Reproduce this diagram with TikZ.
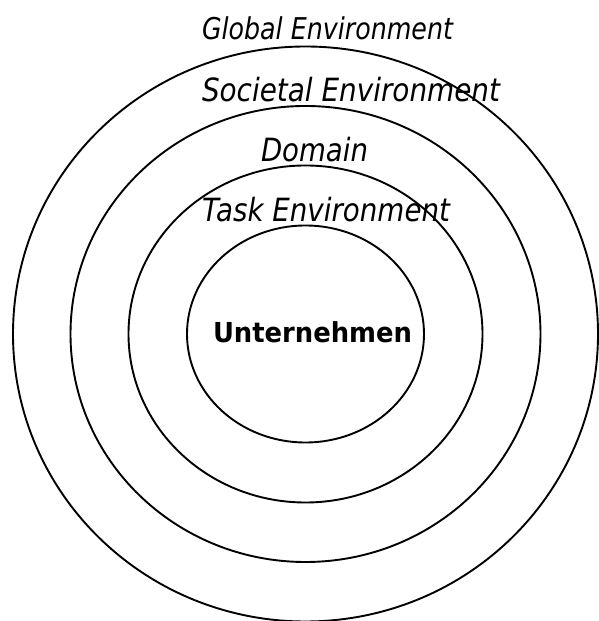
\documentclass[tikz,border=0pt]{standalone}
\usepackage{fontspec}
\setmainfont{DejaVu Sans}
\usepackage{graphicx}
\begin{document}
\begin{tikzpicture}[x=1pt,y=1pt,
  ring/.style={draw=black,line width=1.9pt},
  lbl/.style={anchor=base west,inner sep=0pt,outer sep=0pt}]
\useasboundingbox (0,0) rectangle (599,621);
\coordinate (c) at (305.5,287);
\draw[ring] (c) ellipse [x radius=292.5,y radius=287.5];
\draw[ring] (c) ellipse [x radius=235,y radius=228];
\draw[ring] (c) ellipse [x radius=177,y radius=168.5];
\draw[ring] (c) ellipse [x radius=118.5,y radius=108.5];
\node[lbl] (global) at (202,581) {\resizebox{251pt}{\height}{\fontsize{30}{36}\selectfont\itshape Global Environment}};
\node[lbl] (societal) at (202,519) {\resizebox{298pt}{\height}{\fontsize{32}{38}\selectfont\itshape Societal Environment}};
\node[lbl] (domain) at (261,459) {\resizebox{107pt}{\height}{\fontsize{32}{38}\selectfont\itshape Domain}};
\node[lbl] (task) at (202,399) {\resizebox{248pt}{\height}{\fontsize{32}{38}\selectfont\itshape Task Environment}};
\node[lbl] (unt) at (213,278) {\resizebox{199pt}{\height}{\fontsize{27.5}{33}\selectfont\bfseries Unternehmen}};
\end{tikzpicture}
\end{document}
